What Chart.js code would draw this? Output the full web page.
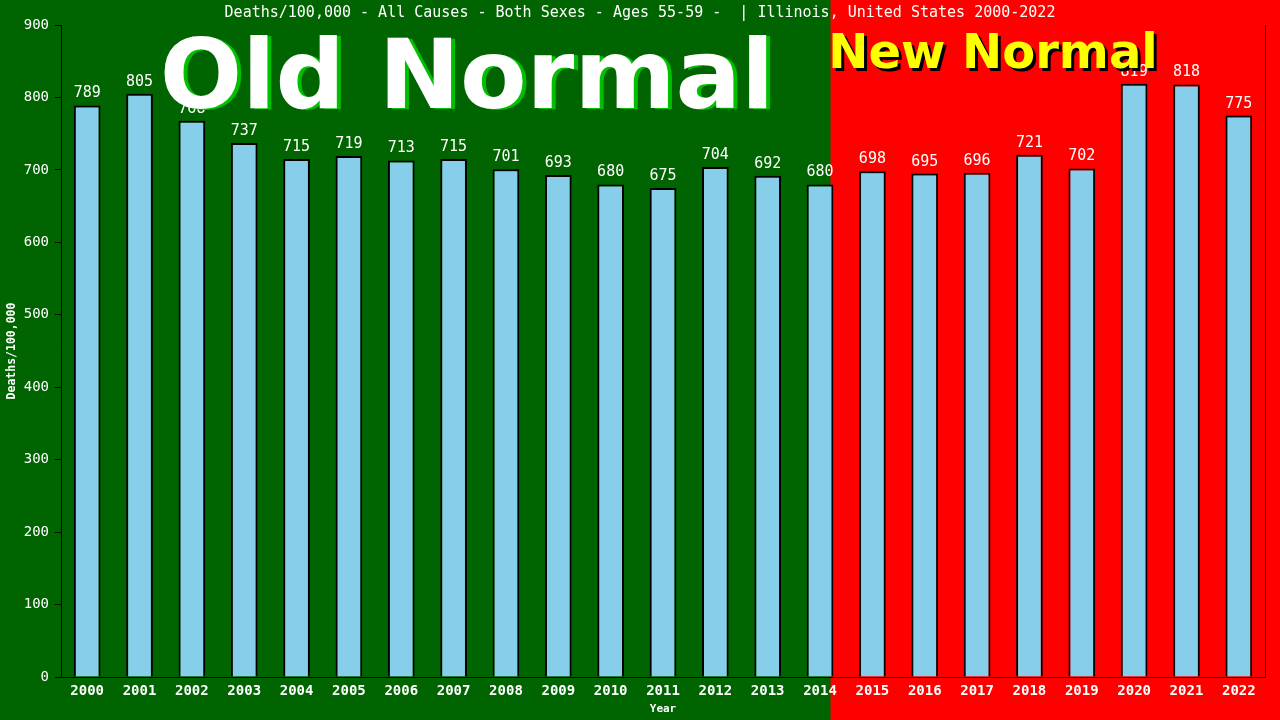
<!DOCTYPE html>
<html>
<head>
<meta charset="utf-8">
<script src="https://cdn.jsdelivr.net/npm/chart.js@4/dist/chart.umd.min.js"></script>
<style>
  html, body { margin: 0; padding: 0; background: #006400; }
  #wrap { width: 1280px; height: 720px; }
</style>
</head>
<body>
<div id="wrap"><canvas id="deathsCanvas" width="1280" height="720"></canvas></div>
<script>
// chart data
const years = ['2000', '2001', '2002', '2003', '2004', '2005', '2006', '2007', '2008', '2009', '2010', '2011',
    '2012', '2013', '2014', '2015', '2016', '2017', '2018', '2019', '2020', '2021', '2022'];
const deathsPer100k = [789, 805, 768, 737, 715, 719, 713, 715, 701, 693, 680, 675,
    704, 692, 680, 698, 695, 696, 721, 702, 819, 818, 775];
const yTicks = [0, 100, 200, 300, 400, 500, 600, 700, 800, 900];
const lastOldYear = 14; // index of 2014, red starts after it

const titleText = 'Deaths/100,000 - All Causes - Both Sexes - Ages 55-59 -  | Illinois, United States 2000-2022';
const mono = '"DejaVu Sans Mono", monospace';

// backgrounds, labels, big "Old Normal"/"New Normal" words
const decorPlugin = {
    id: 'decor',
    beforeDraw(chart) {
        const c = chart.ctx;
        const x = chart.scales.x;
        const catW = (x.right - x.left) / years.length;
        const split = x.getPixelForValue(lastOldYear) + catW * 0.2;
        c.save();
        c.fillStyle = '#006400';
        c.fillRect(0, 0, chart.width, chart.height);
        c.fillStyle = '#ff0000';
        c.fillRect(split, 0, chart.width - split, chart.height);
        c.restore();
    },
    afterDatasetsDraw(chart) {
        const c = chart.ctx;
        const meta = chart.getDatasetMeta(0);
        const area = chart.chartArea;
        c.save();
        // value labels
        c.fillStyle = '#ffffff';
        c.font = '15px ' + mono;
        c.textAlign = 'center';
        c.textBaseline = 'alphabetic';
        meta.data.forEach((bar, i) => {
            c.fillText(String(deathsPer100k[i]), bar.x, bar.y - 8);
        });
        // right border line
        c.strokeStyle = '#000000';
        c.lineWidth = 1;
        c.beginPath();
        c.moveTo(area.right + 0.5, area.top);
        c.lineTo(area.right + 0.5, area.bottom);
        c.stroke();
        c.restore();
    },
    afterDraw(chart) {
        const c = chart.ctx;
        const area = chart.chartArea;
        c.save();
        // title
        c.fillStyle = '#ffffff';
        c.font = '15px ' + mono;
        c.textAlign = 'center';
        c.textBaseline = 'middle';
        c.fillText(titleText, chart.width / 2, 13);
        // axis titles
        c.font = 'bold 11px ' + mono;
        c.fillText('Year', (area.left + area.right) / 2, 709);
        c.font = 'bold 11.5px ' + mono;
        c.translate(12, (area.top + area.bottom) / 2);
        c.rotate(-Math.PI / 2);
        c.fillText('Deaths/100,000', 0, 0);
        c.restore();

        c.save();
        c.textAlign = 'center';
        c.textBaseline = 'alphabetic';
        c.font = 'bold 97px "DejaVu Sans"';
        c.fillStyle = '#00c000';
        c.fillText('Old Normal', 471, 109);
        c.fillStyle = '#ffffff';
        c.fillText('Old Normal', 467, 108);
        c.font = 'bold 48px "DejaVu Sans"';
        c.fillStyle = '#000000';
        c.fillText('New Normal', 996, 71);
        c.fillStyle = '#ffff00';
        c.fillText('New Normal', 993, 68);
        c.restore();
    }
};

const ctx = document.getElementById('deathsCanvas').getContext('2d');

let deathsChart = new Chart(ctx, {
    type: 'bar',
    data: {
        labels: years,
        datasets: [{
            data: deathsPer100k,
            backgroundColor: '#87ceeb',
            borderColor: '#000000',
            borderWidth: { top: 2, left: 2, right: 2, bottom: 0 },
            barPercentage: 0.51,
            categoryPercentage: 1.0
        }]
    },
    options: {
        responsive: false,
        animation: false,
        layout: {
            padding: { left: 0, top: 25, right: 15, bottom: 0 }
        },
        plugins: {
            legend: { display: false },
            tooltip: { enabled: false },
            title: { display: false }
        },
        scales: {
            x: {
                grid: { display: false },
                border: { display: true, color: '#000000', width: 1 },
                ticks: {
                    color: '#ffffff',
                    font: { family: mono, size: 14, weight: 'bold' },
                    padding: -2,
                    maxRotation: 0,
                    autoSkip: false
                },
                afterFit(scale) { scale.height = 43; }
            },
            y: {
                min: 0,
                max: 900,
                afterBuildTicks(scale) {
                    scale.ticks = yTicks.map(v => ({ value: v }));
                },
                grid: {
                    drawOnChartArea: false,
                    color: '#000000',
                    tickLength: 6
                },
                border: { display: true, color: '#000000', width: 1 },
                ticks: {
                    color: '#ffffff',
                    font: { family: mono, size: 14 },
                    padding: 6
                },
                afterFit(scale) { scale.width = 61; }
            }
        }
    },
    plugins: [decorPlugin]
});
</script>
</body>
</html>
